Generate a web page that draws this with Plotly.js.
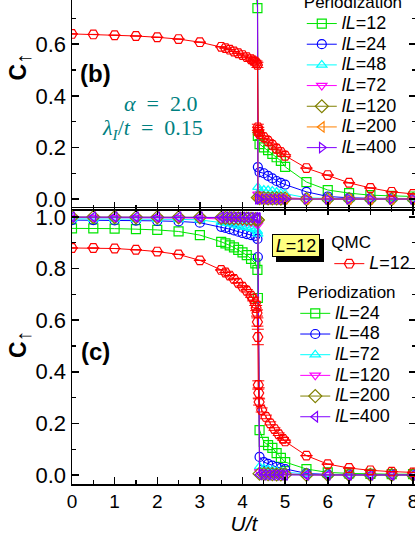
<!DOCTYPE html>
<html><head><meta charset="utf-8">
<script src="https://cdn.plot.ly/plotly-3.0.1.min.js"></script>
<style>
html,body{margin:0;padding:0;overflow:hidden;width:415px;height:537px;background:#fff;}
#wrap{position:relative;width:415px;height:537px;overflow:hidden;}
#chart{position:absolute;left:0;top:-80px;width:420px;height:617px;}
</style></head><body><div id="wrap"><div id="chart"></div></div>
<script>
// ---------- data ----------
var U_per = [0,0.5,1,1.5,2,2.5,3, 3.5,3.6,3.7,3.8,3.9,4.0,4.1,4.2,4.3, 4.35,4.36,4.4, 4.5,4.6,4.7,4.8,4.9,5.0, 5.5,6,6.5,7,7.5,8];

// panel (b)
var b_lL12  = [0.95,0.95,0.948,0.945,0.94,0.93,0.915, 0.895,0.89,0.884,0.877,0.87,0.862,0.853,0.843,0.83, 0.74,0.245,0.213, 0.2,0.19,0.175,0.162,0.148,0.125, 0.066,0.035,0.023,0.015,0.012,0.01];
var b_lL24  = [0.975,0.975,0.974,0.973,0.971,0.968,0.962, 0.952,0.949,0.946,0.943,0.94,0.936,0.932,0.928,0.923, 0.915,0.124,0.104, 0.1,0.09,0.08,0.07,0.063,0.056, 0.028,0.01,0.005,0.003,0.002,0.002];
var b_lL48  = [0.99,0.99,0.99,0.989,0.989,0.988,0.986, 0.982,0.981,0.98,0.979,0.977,0.976,0.974,0.972,0.97, 0.966,0.046,0.03, 0.035,0.034,0.031,0.027,0.023,0.02, 0.005,0.002,0.001,0.001,0.001,0.001];
var b_lL72  = [0.995,0.995,0.995,0.995,0.994,0.994,0.993, 0.991,0.99,0.99,0.989,0.988,0.987,0.986,0.985,0.984, 0.982,0.018,0.01, 0.01,0.009,0.008,0.007,0.006,0.005, 0.001,0,0,0,0,0];
var b_lL120 = [0.998,0.998,0.998,0.998,0.998,0.997,0.997, 0.996,0.996,0.995,0.995,0.995,0.994,0.994,0.993,0.993, 0.992,0.006,0.004, 0.004,0.003,0.003,0.003,0.002,0.002, 0,0,0,0,0,0];
var b_lL200 = [0.999,0.999,0.999,0.999,0.999,0.999,0.999, 0.998,0.998,0.998,0.998,0.998,0.997,0.997,0.997,0.997, 0.996,0.003,0.002, 0.001,0.001,0.001,0.001,0.001,0.001, 0,0,0,0,0,0];
var b_lL400 = [1,1,1,1,1,1,1, 1,1,1,1,1,1,1,1,1, 0.999,0,0, 0,0,0,0,0,0, 0,0,0,0,0,0];

var U_qmc_b = [0,0.5,1,1.5,2,2.5,3, 3.5,3.6,3.7,3.8,3.9,4.0,4.1,4.2,4.25,4.3,4.33,4.35, 4.36,4.37,4.38,4.4, 4.5,4.6,4.7,4.8,4.9,5.0, 5.5,6,6.5,7,7.5,8];
var C_qmc_b = [0.64,0.638,0.635,0.632,0.627,0.62,0.608, 0.59,0.585,0.579,0.572,0.565,0.558,0.55,0.542,0.537,0.532,0.527,0.52, 0.278,0.268,0.26,0.252, 0.24,0.225,0.21,0.195,0.182,0.168, 0.12,0.093,0.063,0.043,0.028,0.02];
var E_qmc_b = [0,0,0,0,0,0,0, 0,0,0,0,0,0,0,0.004,0.005,0.006,0.008,0.01, 0.012,0.01,0.008,0.006, 0.005,0.005,0.004,0.004,0.004,0.004, 0,0,0,0,0,0];

// panel (c)
var c_lL24  = [0.956,0.956,0.955,0.953,0.95,0.944,0.93, 0.904,0.898,0.89,0.882,0.873,0.863,0.852,0.838,0.82, 0.795,0.686,0.174, 0.128,0.116,0.105,0.085,0.066,0.05, 0.023,0.01,0.006,0.004,0.003,0.003];
var c_lL48  = [0.988,0.988,0.987,0.986,0.985,0.983,0.978, 0.962,0.958,0.953,0.948,0.943,0.938,0.934,0.93,0.927, 0.915,0.845,0.07, 0.05,0.043,0.036,0.031,0.027,0.023, 0.006,0.002,0.001,0.001,0.001,0.001];
var c_lL72  = [0.993,0.993,0.993,0.992,0.992,0.991,0.989, 0.98,0.977,0.974,0.97,0.967,0.963,0.96,0.956,0.952, 0.945,0.935,0.032, 0.025,0.021,0.018,0.015,0.013,0.011, 0.003,0.001,0,0,0,0];
var c_lL120 = [0.998,0.998,0.998,0.997,0.997,0.997,0.996, 0.992,0.991,0.99,0.988,0.987,0.985,0.983,0.981,0.979, 0.976,0.97,0.012, 0.009,0.008,0.007,0.006,0.005,0.004, 0.001,0,0,0,0,0];
var c_lL200 = [1,1,1,0.999,0.999,0.999,0.999, 0.997,0.997,0.996,0.996,0.995,0.995,0.994,0.993,0.992, 0.99,0.988,0.005, 0.004,0.003,0.003,0.002,0.002,0.002, 0,0,0,0,0,0];
var c_lL400 = [1,1,1,1,1,1,1, 1,1,1,0.999,0.999,0.999,0.999,0.998,0.998, 0.997,0.996,0.001, 0,0,0,0,0,0, 0,0,0,0,0,0];

var U_qmc_c = [0,0.5,1,1.5,2,2.5,3, 3.5,3.6,3.7,3.8,3.9,4.0,4.1,4.2, 4.25,4.3,4.32,4.34,4.35,4.36,4.37,4.38,4.39, 4.45,4.55,4.65,4.75,4.85,4.95, 5.0, 5.5,6,6.5,7,7.5,8];
var C_qmc_c = [0.88,0.88,0.878,0.873,0.866,0.855,0.832, 0.795,0.785,0.773,0.76,0.745,0.73,0.714,0.695, 0.682,0.665,0.647,0.628,0.593,0.535,0.349,0.318,0.283, 0.252,0.225,0.2,0.178,0.158,0.14, 0.13, 0.075,0.042,0.027,0.018,0.013,0.01];
var E_qmc_c = [0,0,0,0,0,0,0, 0,0,0,0,0,0.004,0.005,0.006, 0.007,0.008,0.01,0.012,0.016,0.03,0.016,0.02,0.012, 0.008,0.007,0.006,0.005,0.005,0.005, 0.005, 0,0,0,0,0,0];

var labels_b = ['12','24','48','72','120','200','400'];
var labels_c = ['24','48','72','120','200','400'];
var xTicks = [0,1,2,3,4,5,6,7,8];
var yTicks = [0,0.2,0.4,0.6,0.8,1.0];

// ---------- styles ----------
var FONT = 'Liberation Sans, Arial, sans-serif';
var SERIF = 'Liberation Serif, Times New Roman, serif';
var colB = ['#00e600','#0000ff','#00ffff','#ff00ff','#808000','#ff8000','#8000ff'];
var symB = ['square-open','circle-open','triangle-up-open','triangle-down-open','diamond-open','triangle-left-open','triangle-right-open'];
var colC = ['#00e600','#0000ff','#00ffff','#ff00ff','#808000','#8000ff'];
var symC = ['square-open','circle-open','triangle-up-open','triangle-down-open','diamond-open','triangle-left-open'];
var seriesB = [b_lL12,b_lL24,b_lL48,b_lL72,b_lL120,b_lL200,b_lL400];
var seriesC = [c_lL24,c_lL48,c_lL72,c_lL120,c_lL200,c_lL400];

function legName(t){ return '<span style="font-size:18px"><i>lL</i>=' + t + '</span>'; }

var traces = [];
seriesB.forEach(function(s,i){
  traces.push({x:U_per, y:s, xaxis:'x', yaxis:'y', type:'scatter', mode:'lines+markers',
    name: legName(labels_b[i]), legend:'legend',
    line:{color:colB[i], width:1},
    marker:{symbol:symB[i], size:(i===4?10:9), color:colB[i], line:{width:1.2, color:colB[i]}}});
});
traces.push({x:U_qmc_b, y:C_qmc_b, xaxis:'x', yaxis:'y', type:'scatter', mode:'lines+markers',
  name:'L=12', showlegend:false,
  line:{color:'#ff0000', width:1},
  marker:{symbol:'hexagon2-open', size:10, color:'#ff0000', line:{width:1.2,color:'#ff0000'}},
  error_y:{type:'data', array:E_qmc_b, visible:true, color:'#ff0000', thickness:1, width:6}});

seriesC.forEach(function(s,i){
  traces.push({x:U_per, y:s, xaxis:'x2', yaxis:'y2', type:'scatter', mode:'lines+markers',
    name: legName(labels_c[i]), legend:'legend3',
    line:{color:colC[i], width:1},
    marker:{symbol:symC[i], size:(i===4?10:9), color:colC[i], line:{width:1.2, color:colC[i]}}});
});
traces.push({x:U_qmc_c, y:C_qmc_c, xaxis:'x2', yaxis:'y2', type:'scatter', mode:'lines+markers',
  name:'<span style="font-size:18px"><i>L</i>=12</span>', legend:'legend2',
  line:{color:'#ff0000', width:1},
  marker:{symbol:'hexagon2-open', size:10, color:'#ff0000', line:{width:1.2,color:'#ff0000'}},
  error_y:{type:'data', array:E_qmc_c, visible:true, color:'#ff0000', thickness:1, width:6}});

function xax(anchor, showLabels){
  return {anchor:anchor, range:[0,8.07], tickvals:xTicks, showticklabels:showLabels,
    ticks:'inside', ticklen:7, tickwidth:1.5, tickcolor:'#000',
    minor:{dtick:0.5, ticks:'inside', ticklen:4, tickwidth:1.2, tickcolor:'#000'},
    showline:true, linewidth:1.5, linecolor:'#000', mirror:'allticks',
    showgrid:false, zeroline:false, tickfont:{family:FONT, size:19, color:'#000'}};
}
function yax(anchor, dom, rng){
  return {anchor:anchor, domain:dom, range:rng, tickvals:yTicks, tickformat:'.1f',
    ticks:'inside', ticklen:7, tickwidth:1.5, tickcolor:'#000',
    minor:{dtick:0.1, ticks:'inside', ticklen:4, tickwidth:1.2, tickcolor:'#000'},
    showline:true, linewidth:1.5, linecolor:'#000', mirror:'allticks',
    showgrid:false, zeroline:false, tickfont:{family:FONT, size:22, color:'#000'}};
}

var xa1 = xax('y', false);
var xa2 = xax('y2', true);
xa2.title = {text:'U/t', standoff:2, font:{family:FONT, size:21, style:'italic', color:'#000'}};

var legBase = function(x, y, title){
  return {x:x, y:y, xanchor:'left', yanchor:'top', xref:'paper', yref:'paper',
    bgcolor:'rgba(0,0,0,0)', borderwidth:0, tracegroupgap:0,
    font:{family:FONT, size:13.6, color:'#000'},
    title:{text:title, font:{family:FONT, size:17, color:'#000'}}};
};

var yTitle = '<b>C</b><sub><span style="font-size:21px">↑</span></sub>';

var layout = {
  width:420, height:617,
  margin:{l:72, r:4, t:12, b:53},
  paper_bgcolor:'#fff', plot_bgcolor:'rgba(0,0,0,0)',
  font:{family:FONT, color:'#000'},
  xaxis:xa1, yaxis:yax('x',[0.4975,1],[-0.04,1.035]),
  xaxis2:xa2, yaxis2:yax('x2',[0,0.5],[-0.035,1.035]),
  legend:legBase(0.668, 0.902, 'Periodization'),
  legend2:legBase(0.748, 0.467, 'QMC'),
  legend3:legBase(0.649, 0.377, 'Periodization'),
  showlegend:true,
  annotations:[
    {xref:'paper', yref:'paper', x:0, y:0.7545, xshift:-52, textangle:-90, text:yTitle, showarrow:false, xanchor:'center', yanchor:'middle', font:{family:FONT, size:23, color:'#000'}},
    {xref:'paper', yref:'paper', x:0, y:0.2518, xshift:-52, textangle:-90, text:yTitle, showarrow:false, xanchor:'center', yanchor:'middle', font:{family:FONT, size:23, color:'#000'}},
    {xref:'x', yref:'y', x:0.54, y:0.488, text:'<b>(b)</b>', showarrow:false, font:{family:FONT, size:24, color:'#000'}},
    {xref:'x2', yref:'y2', x:0.54, y:0.477, text:'<b>(c)</b>', showarrow:false, font:{family:FONT, size:24, color:'#000'}},
    {xref:'x', yref:'y', x:2.07, y:0.372, text:'<i>α</i>\u2002=\u20022.0', showarrow:false, font:{family:SERIF, size:22, color:'#008080'}},
    {xref:'x', yref:'y', x:1.9, y:0.271, text:'<i>λ<sub>I</sub></i>/<i>t</i>\u2002=\u20020.15', showarrow:false, font:{family:SERIF, size:22, color:'#008080'}},
    {xref:'x2', yref:'y2', x:5.255, y:0.888, xshift:4, yshift:-5, text:'<i>L</i>=12', showarrow:false, width:44, height:19, borderpad:1, borderwidth:1, bordercolor:'#000', bgcolor:'#000', font:{family:FONT, size:18, color:'#000'}},
    {xref:'x2', yref:'y2', x:5.255, y:0.888, text:'<i>L</i>=12', showarrow:false, width:44, height:19, borderpad:1, borderwidth:1, bordercolor:'#000', bgcolor:'#ffff80', font:{family:FONT, size:18, color:'#000'}}
  ]
};

Plotly.newPlot('chart', traces, layout, {displayModeBar:false, staticPlot:true});
</script></body></html>
